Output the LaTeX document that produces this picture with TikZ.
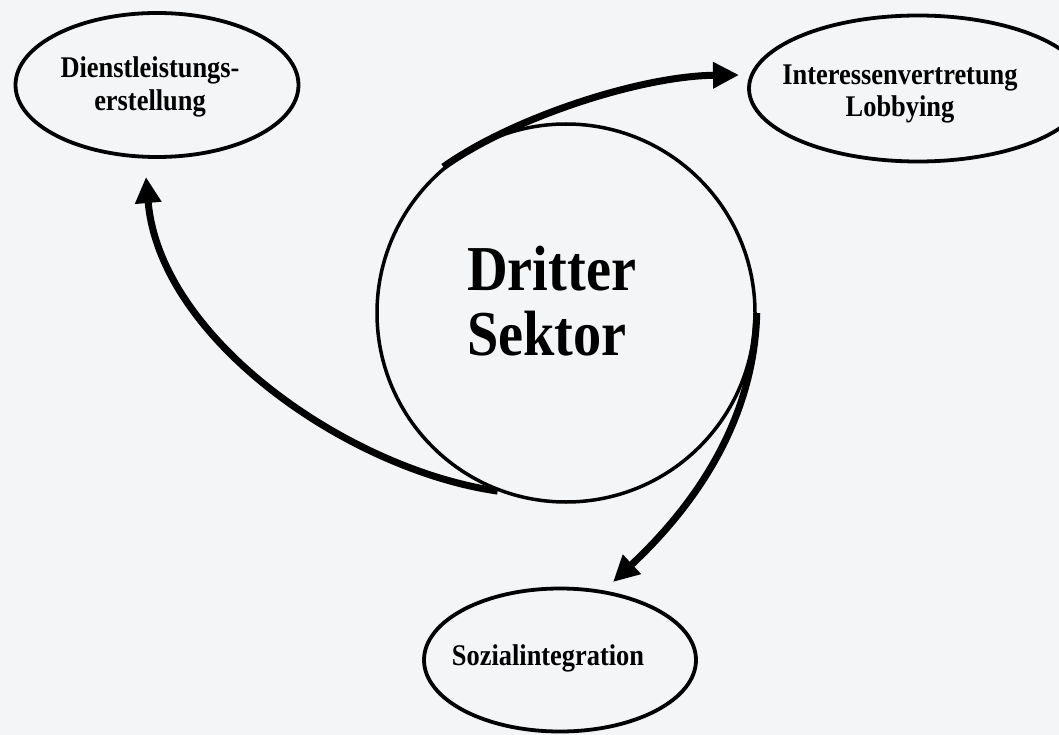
\documentclass[tikz,border=0pt]{standalone}
\usepackage{fontspec}
\newfontfamily\cfont{Liberation Serif}[FakeStretch=0.88]
\usetikzlibrary{arrows.meta,shapes.geometric}
\definecolor{bg}{HTML}{F4F5F7}
\begin{document}
\begin{tikzpicture}[x=1pt,y=-1pt,
  oval/.style={draw=black, line width=3.8pt, ellipse, inner sep=0pt},
  lbl/.style={inner sep=0pt, align=center, font=\cfont\bfseries\fontsize{30}{33}\selectfont},
  arr/.style={line width=7pt, -{Triangle[length=26pt,width=25pt]}}
]
\fill[bg] (0,0) rectangle (1059,735);
\useasboundingbox (0,0) rectangle (1059,735);
\begin{scope}
\clip (0,0) rectangle (1059,735);
% ellipses
\node[oval, minimum width=283pt, minimum height=144pt] (dl) at (157,85) {};
\node[oval, minimum width=338pt, minimum height=146pt] (iv) at (918,88.5) {};
\node[oval, minimum width=272pt, minimum height=143pt] (si) at (560,660) {};
\end{scope}
% central circle
\node[draw=black, line width=3.5pt, circle, inner sep=0pt, minimum size=378pt] (dc) at (566,313) {};

% texts
\node[lbl] (tdl) at (150,87) {Dienstleistungs-\\erstellung};
\node[lbl, font=\cfont\bfseries\fontsize{30}{32}\selectfont] (tiv) at (900,94) {Interessenvertretung\\Lobbying};
\node[lbl, anchor=base] (tsi) at (548,665) {Sozialintegration};
\node[inner sep=0pt, align=left, anchor=west, font=\cfont\bfseries\fontsize{64}{65}\selectfont] (tdc) at (467,301) {Dritter\\Sektor};

% arrow ends
\coordinate (e1) at (739,75);
\coordinate (e2) at (146,177);
\coordinate (e3) at (613,582);

% arrows
\draw[arr] (dc.130.5) .. controls (512,118) and (640,76) .. (e1);
\draw[arr] (dc.249.3) .. controls (350,470) and (160,340) .. (e2);
\draw[arr] (dc.0) .. controls (754,425) and (690,510) .. (e3);
\end{tikzpicture}
\end{document}
